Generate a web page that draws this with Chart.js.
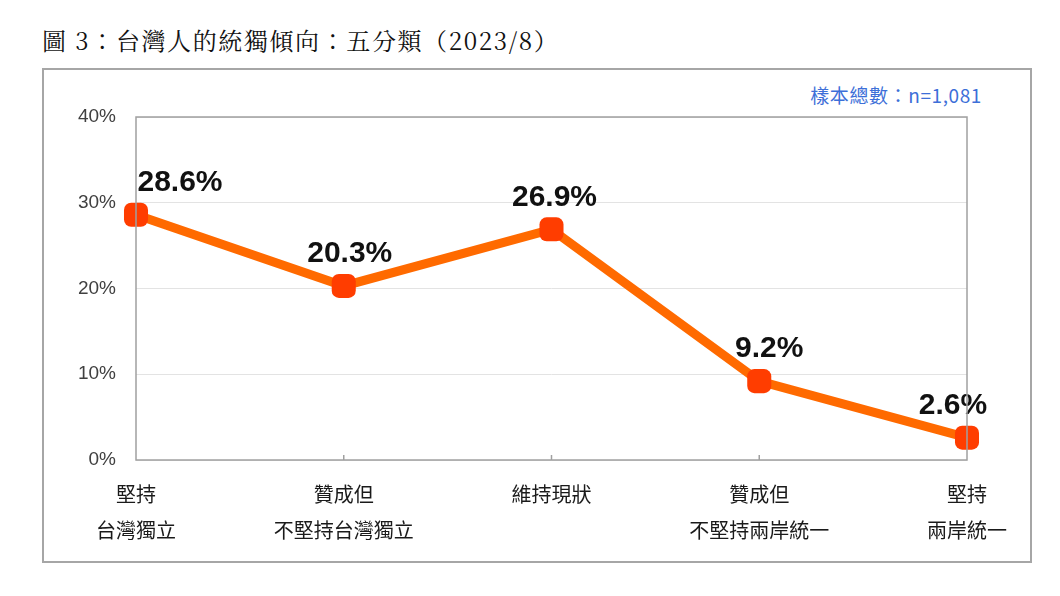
<!DOCTYPE html>
<html>
<head>
<meta charset="utf-8">
<script src="https://cdn.jsdelivr.net/npm/chart.js@4.4.0/dist/chart.umd.min.js"></script>
<style>
  html, body { margin: 0; padding: 0; background: #ffffff; }
  #wrap { position: relative; width: 1060px; height: 596px; }
  #title { position: absolute; left: 42px; top: 25px; font-family: "Noto Serif CJK TC", "DejaVu Serif", "Liberation Serif", "Noto Sans CJK TC", serif; font-size: 24px; letter-spacing: 1.6px; color: #111; white-space: nowrap; line-height: 30px; }
  #frame { position: absolute; left: 42px; top: 68px; width: 986px; height: 491px; border: 2px solid #a6a6a6; }
  #note { position: absolute; right: 78px; top: 83px; font-family: "Noto Sans CJK TC", "Noto Sans", sans-serif; font-size: 19px; letter-spacing: 0.6px; color: #3d6fd8; white-space: nowrap; line-height: 24px; }
  canvas { position: absolute; left: 0; top: 0; }
</style>
</head>
<body>
<div id="wrap">
  <div id="title">圖 3：台灣人的統獨傾向：五分類（2023/8）</div>
  <div id="frame"></div>
  <div id="note">樣本總數：n=1,081</div>
  <canvas id="c" width="1060" height="596"></canvas>
</div>
<script>
const categories = [
  ["堅持", "台灣獨立"],
  ["贊成但", "不堅持台灣獨立"],
  ["維持現狀"],
  ["贊成但", "不堅持兩岸統一"],
  ["堅持", "兩岸統一"]
];
const values = [28.6, 20.3, 26.9, 9.2, 2.6];
const yTickValues = [0, 10, 20, 30, 40];

const labelOffsetX = [44, 6, 3, 10, -14];

const plotBorder = {
  id: 'plotBorder',
  afterDraw(chart) {
    const { ctx, chartArea: a, scales } = chart;
    ctx.save();
    ctx.strokeStyle = '#a0a0a0';
    ctx.lineWidth = 1.5;
    ctx.strokeRect(a.left, a.top, a.right - a.left, a.bottom - a.top);
    const xs = scales.x;
    for (let i = 1; i < categories.length - 1; i++) {
      const px = xs.getPixelForValue(i);
      ctx.beginPath();
      ctx.moveTo(px, a.bottom);
      ctx.lineTo(px, a.bottom - 5);
      ctx.stroke();
    }
    ctx.restore();
  }
};

const valueLabels = {
  id: 'valueLabels',
  afterDatasetsDraw(chart) {
    const { ctx } = chart;
    const meta = chart.getDatasetMeta(0);
    ctx.save();
    ctx.font = 'bold 30px "Liberation Sans", Arial, sans-serif';
    ctx.fillStyle = '#111111';
    ctx.textAlign = 'center';
    ctx.textBaseline = 'middle';
    meta.data.forEach((pt, i) => {
      ctx.fillText(values[i].toFixed(1) + '%', pt.x + labelOffsetX[i], pt.y - 32);
    });
    ctx.restore();
  }
};

new Chart(document.getElementById('c'), {
  type: 'line',
  data: {
    labels: categories,
    datasets: [{
      data: values,
      borderColor: '#ff6a00',
      borderWidth: 9,
      backgroundColor: '#ff3d00',
      pointBackgroundColor: '#ff3d00',
      pointBorderColor: '#ff3d00',
      pointBorderWidth: 0,
      pointStyle: 'rectRounded',
      pointRadius: 14,
      pointHoverRadius: 14,
      tension: 0,
      clip: false
    }]
  },
  options: {
    responsive: false,
    animation: false,
    devicePixelRatio: 1,
    layout: { padding: { left: 0, top: 117, right: 93, bottom: 0 } },
    plugins: { legend: { display: false }, tooltip: { enabled: false } },
    scales: {
      x: {
        offset: false,
        grid: { display: false, drawTicks: false },
        border: { display: false },
        ticks: {
          padding: 16,
          maxRotation: 0,
          autoSkip: false,
          color: '#1a1a1a',
          font: { family: '"Noto Sans CJK TC", "Noto Sans", sans-serif', size: 20, lineHeight: 1.8 }
        },
        afterFit(scale) { scale.height = 136; }
      },
      y: {
        min: 0,
        max: 40,
        afterBuildTicks(scale) { scale.ticks = yTickValues.map(v => ({ value: v })); },
        grid: { color: '#e3e3e3', lineWidth: 1, drawTicks: false },
        border: { display: false },
        ticks: {
          padding: 20,
          color: '#404040',
          font: { family: '"Liberation Sans", Arial, sans-serif', size: 19 },
          callback: v => v + '%'
        },
        afterFit(scale) { scale.width = 136; }
      }
    }
  },
  plugins: [plotBorder, valueLabels]
});
</script>
</body>
</html>
